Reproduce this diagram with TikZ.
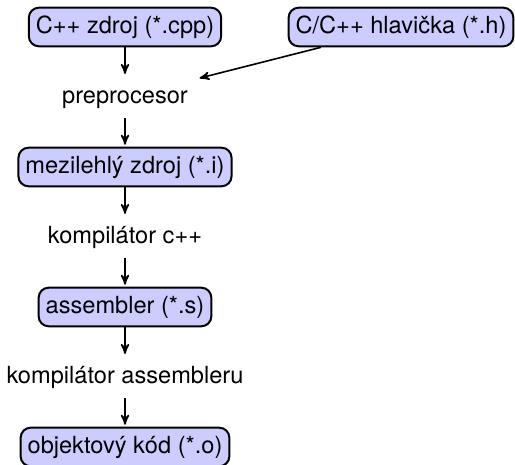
\documentclass[tikz,border=0pt]{standalone}
\usepackage{fontspec}
\setmainfont{TeX Gyre Heros}
\usepackage{tikz}
\usetikzlibrary{arrows,positioning}

\begin{document}
\fontsize{11.8pt}{14pt}\selectfont
\begin{tikzpicture}[->,>=stealth',shorten >=1pt,auto,node distance=35pt,
		thick]
		\tikzstyle{file}=[draw,line width=1pt,fill=blue!20,rounded corners=5pt,inner xsep=3.5pt,inner ysep=4pt,text height=8.7pt,text depth=2.6pt]
		\tikzstyle{tool}=[inner sep=4.5pt,text height=8.7pt,text depth=2.6pt]
		
		\useasboundingbox (0,0) rectangle (257.5pt,-232.5pt);
		
		\node[file] (cpp) at (62.5pt,-13.5pt) {C++ zdroj (*.cpp)};
		\node[file] (hdr) [right of=cpp,node distance=138pt] {C/C++ hlavička (*.h)};
		\node[tool] (pre) [below of=cpp] {preprocesor};
		\node[file] (ifile) [below of=pre] {mezilehlý zdroj (*.i)};
		\node[tool] (comp) [below of=ifile] {kompilátor c++};
		\node[file] (sfile) [below of=comp] {assembler (*.s)};
		\node[tool] (asm) [below of=sfile] {kompilátor assembleru};
		\node[file] (ofile) [below of=asm] {objektový kód (*.o)};
		
		\path (cpp) edge (pre);
		\path (hdr) edge (pre);
		\path (pre) edge (ifile);
		\path (ifile) edge (comp);
		\path (comp) edge (sfile);
		\path (sfile) edge (asm);
		\path (asm) edge (ofile);
		\end{tikzpicture}
\end{document}
